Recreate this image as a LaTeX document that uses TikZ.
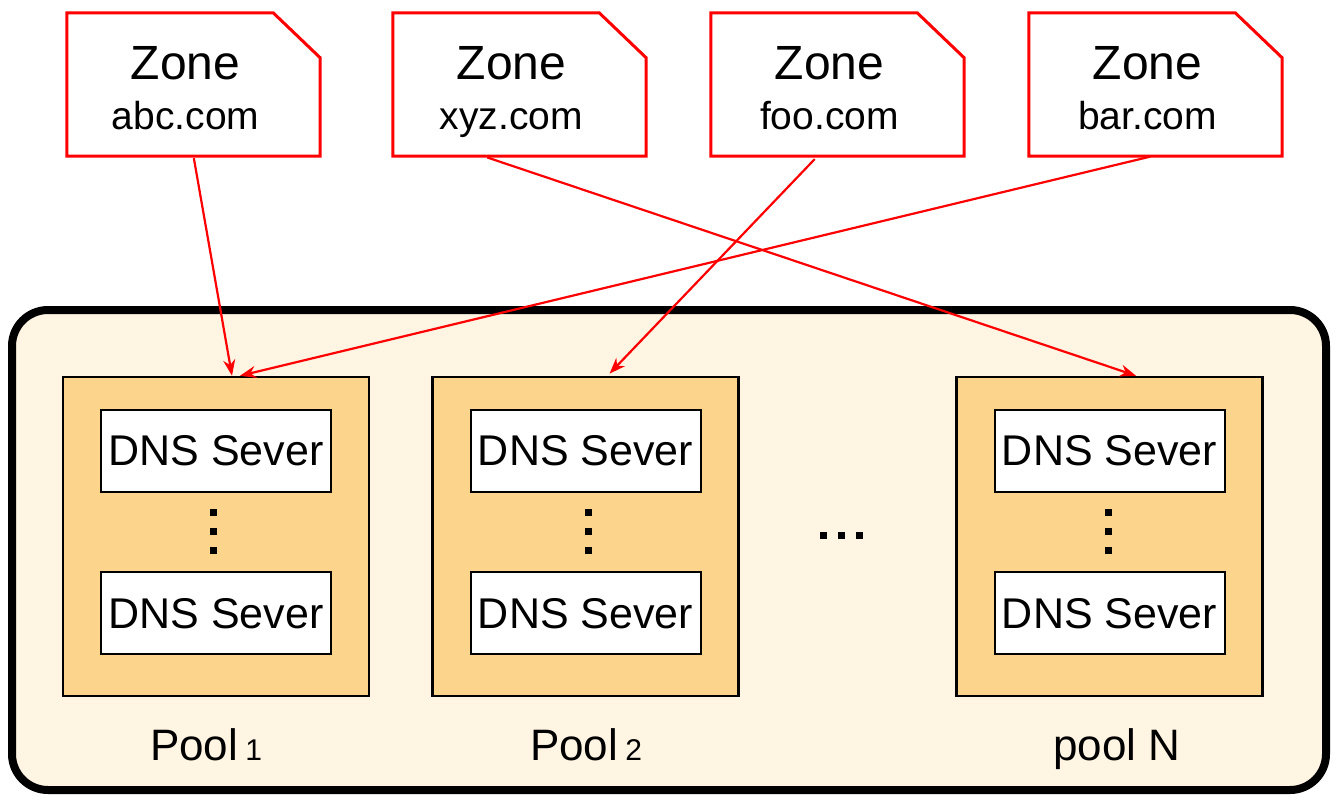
\documentclass[tikz,border=0pt]{standalone}
\usepackage{fontspec}
\setmainfont{Liberation Sans}
\usetikzlibrary{positioning, arrows.meta}
\definecolor{clusterbg}{HTML}{FFF5E2}
\definecolor{poolbg}{HTML}{FDD48C}
\definecolor{zonered}{HTML}{FF0000}
\tikzset{
  cluster/.style={draw, line width=8pt, rounded corners=36pt, fill=clusterbg, minimum width=1314pt, minimum height=480pt}, % the big rounded box
  zone/.style={minimum width=253pt, minimum height=143pt, inner sep=0pt},
  zoneline/.style={draw=zonered, line width=3pt},
  zonetext/.style={align=center, font=\fontsize{48}{50}\selectfont, xshift=-8pt, yshift=-8pt},
  pool/.style={draw, line width=2.5pt, fill=poolbg, minimum width=306pt, minimum height=319pt},
  server/.style={draw, line width=2pt, fill=white, minimum width=230pt, minimum height=82pt, inner sep=0pt, font=\fontsize{43}{48}\selectfont},
  poollabel/.style={anchor=base, font=\fontsize{44}{48}\selectfont},
  link/.style={-{Stealth[length=16pt,width=12pt]}, draw=zonered, line width=2.2pt, shorten <=2pt},
}
\newcommand{\zonebox}[1]{% outline with the cut corner
  \draw[zoneline] (#1.south west) -- (#1.north west) -- ([xshift=-47pt]#1.north east)
    -- ([yshift=-45pt]#1.north east) -- (#1.south east) -- cycle;}
\newcommand{\sub}[1]{\hspace{-5pt}{\fontsize{30}{30}\selectfont #1}}
\newcommand{\dom}[1]{{\fontsize{39}{50}\selectfont #1\vphantom{y}}}

\begin{document}
\begin{tikzpicture}[x=1pt, y=-1pt]
    \useasboundingbox (0,0) rectangle (1338,806);
    \node[cluster] (dc) at (669,550) {};

    % zones
    \node[zone, label={[zonetext]center:{Zone\\\dom{abc.com}}}] (z1) at (193.5,84.5) {};
    \node[zone, label={[zonetext]center:{Zone\\\dom{xyz.com}}}] (z2) at (519.5,84.5) {};
    \node[zone, label={[zonetext]center:{Zone\\\dom{foo.com}}}] (z3) at (837.5,84.5) {};
    \node[zone, label={[zonetext]center:{Zone\\\dom{bar.com}}}] (z4) at (1155.5,84.5) {};
    \zonebox{z1} \zonebox{z2} \zonebox{z3} \zonebox{z4}

    % pools
    \node[pool] (p1) at (216,536.5) {};
    \node[pool] (p2) at (585.5,536.5) {};
    \node[pool] (pN) at (1109.5,536.5) {};
    \node[server, below=33pt of p1.north] (s1a) {DNS Sever};
    \node[server, above=42pt of p1.south] (s1b) {DNS Sever};
    \node[server, below=33pt of p2.north] (s2a) {DNS Sever};
    \node[server, above=42pt of p2.south] (s2b) {DNS Sever};
    \node[server, below=33pt of pN.north] (sNa) {DNS Sever};
    \node[server, above=42pt of pN.south] (sNb) {DNS Sever};

    % dots
    \foreach \x in {213, 588, 1108}
      \foreach \y in {512, 531, 550}
        \fill (\x-3.5,\y-3.5) rectangle +(7,7);
    \foreach \x in {823, 841, 859}
      \fill (\x-3.5,535-3.5) rectangle +(7,7);

    \node[poollabel] (l1) at (206,760) {Pool \sub{1}};
    \node[poollabel] (l2) at (586,760) {Pool \sub{2}};
    \node[poollabel] (lN) at (1117,760) {pool N};

    % zone -> pool
    \draw[link] (z1.south) -- ([xshift=16pt]p1.north);
    \draw[link] ([xshift=-3.5pt]z4.south) -- ([xshift=24pt]p1.north);
    \draw[link, shorten <=4pt, shorten >=3pt] ([xshift=-20pt]z3.south) -- ([xshift=22pt]p2.north);
    \draw[link, shorten <=4pt] ([xshift=-36pt]z2.south) -- ([xshift=26.5pt]pN.north);
\end{tikzpicture}
\end{document}
